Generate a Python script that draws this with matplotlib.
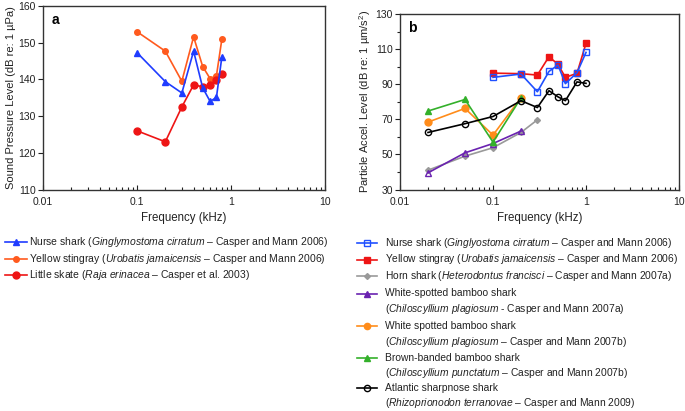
import matplotlib
matplotlib.use("Agg")
import matplotlib.pyplot as plt
from matplotlib.lines import Line2D
from matplotlib.ticker import LogLocator, NullFormatter, FixedLocator

plt.rcParams['font.family'] = ['Liberation Sans', 'DejaVu Sans']
plt.rcParams['mathtext.fontset'] = 'custom'
plt.rcParams['mathtext.rm'] = 'Liberation Sans'
plt.rcParams['mathtext.it'] = 'Liberation Sans:italic'

# ---------------- data: panel a ----------------
freq_a = [0.1, 0.2, 0.3, 0.4, 0.5, 0.6, 0.7, 0.8]
nurse_a = [147.3, 139.4, 136.3, 147.7, 137.7, 134.0, 135.1, 146.2]
stingray_a = [153.0, 147.7, 139.5, 151.6, 143.5, 140.2, 141.0, 151.0]
skate_a = [126.0, 123.0, 132.5, 138.5, 138.0, 138.5, 139.8, 141.5]

# ---------------- data: panel b ----------------
freq_b_hi = [0.1, 0.2, 0.3, 0.4, 0.5, 0.6, 0.8, 1.0]
nurse_b = [93.9, 95.8, 85.7, 97.3, 100.9, 90.3, 96.5, 108.1]
stingray_b = [96.3, 96.0, 95.2, 105.7, 101.3, 93.9, 96.2, 113.3]
freq_horn = [0.02, 0.05, 0.1, 0.2, 0.3]
horn_b = [41.0, 49.0, 53.8, 62.5, 69.7]
freq_bamboo = [0.02, 0.05, 0.1, 0.2]
wsb_a_b = [39.5, 50.9, 56.2, 63.3]
wsb_b_b = [68.4, 76.2, 61.0, 82.3]
brown_b = [74.7, 81.3, 57.0, 82.2]
freq_sharp = [0.02, 0.05, 0.1, 0.2, 0.3, 0.4, 0.5, 0.6, 0.8, 1.0]
sharp_b = [62.5, 67.5, 71.6, 80.6, 76.7, 86.3, 82.8, 80.6, 91.3, 90.5]

yticks_a = [110, 120, 130, 140, 150, 160]
yticks_b = [30, 50, 70, 90, 110, 130]
xticks = [0.01, 0.1, 1, 10]
xticklabels = ['0.01', '0.1', '1', '10']

W, H = 685, 411
fig = plt.figure(figsize=(W / 100, H / 100), dpi=100)


def ax_at(l, r, t, b):
    return fig.add_axes([l / W, 1 - b / H, (r - l) / W, (b - t) / H])


TFS = 7.5


def style(ax, yt, ylim, ylabel, letter, yminor=None):
    ax.set_xscale('log')
    ax.set_xlim(0.01, 10)
    ax.set_ylim(*ylim)
    ax.set_xticks(xticks)
    ax.set_xticklabels(xticklabels)
    ax.xaxis.set_minor_locator(LogLocator(base=10, subs=range(2, 10)))
    ax.xaxis.set_minor_formatter(NullFormatter())
    ax.set_yticks(yt)
    if yminor is not None:
        ax.yaxis.set_minor_locator(FixedLocator(yminor))
    ax.tick_params(which='both', labelsize=TFS, colors='#222222', width=0.8)
    ax.tick_params(axis='x', which='both', direction='in')
    ax.tick_params(axis='x', which='major', length=3.5, pad=5.5)
    ax.tick_params(axis='x', which='minor', length=2.2)
    ax.tick_params(axis='y', which='both', direction='out')
    ax.tick_params(axis='y', which='major', length=3.5, pad=1.5)
    ax.tick_params(axis='y', which='minor', length=2)
    for s in ax.spines.values():
        s.set_linewidth(1.0)
        s.set_color('#333333')
    ax.set_xlabel('Frequency (kHz)', fontsize=8.3, labelpad=3.5, color='#222222')
    ax.set_ylabel(ylabel, fontsize=8, labelpad=2, color='#222222')
    ax.text(0.03, 0.96, letter, transform=ax.transAxes, fontsize=10, fontweight='bold',
            va='top', ha='left')


# colors
c_blue = '#1f3cff'
c_orange_a = '#ff5a1e'
c_red = '#ee1515'
c_blue_b = '#2050ff'
c_gray = '#999999'
c_purple = '#6a22b0'
c_orange = '#ff8c1a'
c_green = '#33b02a'

# ---------------- panel a ----------------
axa = ax_at(43, 325, 6, 189.5)
lw = 1.2
axa.plot(freq_a, stingray_a, color=c_orange_a, marker='o', ms=4, lw=lw)
axa.plot(freq_a, skate_a, color=c_red, marker='o', ms=5, lw=lw)
axa.plot(freq_a, nurse_a, color=c_blue, marker='^', ms=5, lw=lw)
style(axa, yticks_a, (110, 160), r'Sound Pressure Level (dB re: 1 µPa)', 'a')

# ---------------- panel b ----------------
axb = ax_at(400, 679, 14, 189.5)
axb.plot(freq_horn, horn_b, color=c_gray, marker='D', ms=3, lw=lw)
axb.plot(freq_bamboo, wsb_a_b, color=c_purple, marker='^', ms=5, lw=lw, mfc='none', mew=1.0)
axb.plot(freq_bamboo, wsb_b_b, color=c_orange, marker='o', ms=5, lw=lw)
axb.plot(freq_bamboo, brown_b, color=c_green, marker='^', ms=5, lw=lw)
axb.plot(freq_sharp, sharp_b, color='black', marker='o', ms=4.5, lw=lw, mfc='none', mew=1.0)
axb.plot(freq_b_hi, stingray_b, color=c_red, marker='s', ms=5, lw=lw)
axb.plot(freq_b_hi, nurse_b, color=c_blue_b, marker='s', ms=5, lw=lw, mfc='none', mew=1.0)
style(axb, yticks_b, (30, 130), r'Particle Accel. Level (dB re: 1 µm/s$^{2}$)', 'b',
      yminor=[40, 60, 80, 100, 120])

# ---------------- manual legends ----------------


def legend_row(x0, x1, xt, y, color, marker, ms, mfc, lines, fs):
    fy = 1 - y / H
    fig.add_artist(Line2D([x0 / W, x1 / W], [fy, fy], color=color, lw=1.2,
                          transform=fig.transFigure))
    fig.add_artist(Line2D([(x0 + x1) / 2 / W], [fy], color=color, marker=marker, ms=ms,
                          mfc=mfc, mew=1.0, transform=fig.transFigure))
    for i, txt in enumerate(lines):
        fig.text(xt / W, 1 - (y + i * 15.5) / H, txt, fontsize=fs, va='center', ha='left',
                 color='#222222')


LA = 7.5
legend_row(5, 27, 29, 242, c_blue, '^', 5, c_blue,
           [r'Nurse shark ($\mathit{Ginglymostoma\ cirratum}$ – Casper and Mann 2006)'], LA)
legend_row(5, 27, 29, 258.5, c_orange_a, 'o', 4, c_orange_a,
           [r'Yellow stingray ($\mathit{Urobatis\ jamaicensis}$ – Casper and Mann 2006)'], LA)
legend_row(5, 27, 29, 275, c_red, 'o', 5, c_red,
           [r'Little skate ($\mathit{Raja\ erinacea}$ – Casper et al. 2003)'], LA)

LB = 7.4
bx0, bx1, bxt = 357, 377, 385
legend_row(bx0, bx1, bxt, 243, c_blue_b, 's', 4.5, 'none',
           [r'Nurse shark ($\mathit{Ginglyostoma\ cirratum}$ – Casper and Mann 2006)'], LB)
legend_row(bx0, bx1, bxt, 259.5, c_red, 's', 4.5, c_red,
           [r'Yellow stingray ($\mathit{Urobatis\ jamaicensis}$ – Casper and Mann 2006)'], LB)
legend_row(bx0, bx1, bxt, 276, c_gray, 'D', 3, c_gray,
           [r'Horn shark ($\mathit{Heterodontus\ francisci}$ – Casper and Mann 2007a)'], LB)
legend_row(bx0, bx1, bxt, 293.5, c_purple, '^', 4.5, c_purple,
           ['White-spotted bamboo shark',
            r'($\mathit{Chiloscyllium\ plagiosum}$ - Casper and Mann 2007a)'], LB)
legend_row(bx0, bx1, bxt, 326, c_orange, 'o', 4.5, c_orange,
           ['White spotted bamboo shark',
            r'($\mathit{Chiloscyllium\ plagiosum}$ – Casper and Mann 2007b)'], LB)
legend_row(bx0, bx1, bxt, 357.5, c_green, '^', 4.5, c_green,
           ['Brown-banded bamboo shark',
            r'($\mathit{Chiloscyllium\ punctatum}$ – Casper and Mann 2007b)'], LB)
legend_row(bx0, bx1, bxt, 387.5, 'black', 'o', 4.5, 'none',
           ['Atlantic sharpnose shark',
            r'($\mathit{Rhizoprionodon\ terranovae}$ – Casper and Mann 2009)'], LB)

fig.savefig('out.png', dpi=100)
